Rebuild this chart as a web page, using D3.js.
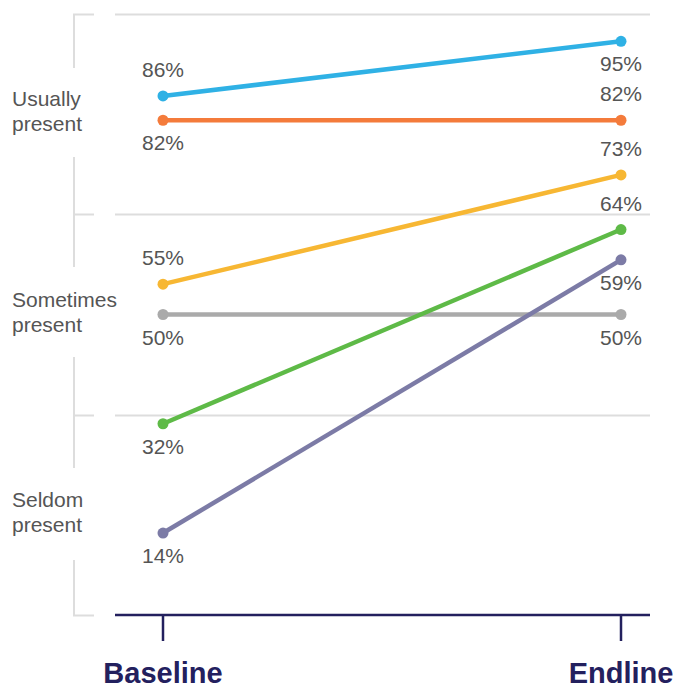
<!DOCTYPE html>
<html>
<head>
<meta charset="utf-8">
<style> body { margin: 0; background: #fff; } </style>
<script src="https://d3js.org/d3.v7.min.js"></script>
</head>
<body>
<div id="chart"></div>
<script>
// data
var periods = ["Baseline", "Endline"];
var seriesNames = ["blue", "orange", "yellow", "gray", "green", "purple"];
var baselineValues = [86, 82, 55, 50, 32, 14];
var endlineValues = [95, 82, 73, 50, 64, 59];
var seriesColors = ["#2fb1e5", "#f47b3b", "#f7b733", "#aaaaaa", "#5eba47", "#7c7ba6"];
// label above (-1) or below (+1) the dot
var baselineLabelPos = [-1, 1, -1, 1, 1, 1];
var endlineLabelPos = [1, -1, -1, 1, -1, 1];
var bandLabels = [["Usually", "present"], ["Sometimes", "present"], ["Seldom", "present"]];
var bandEdges = [3, 2, 1, 0];

var W = 677, H = 684;
var svg = d3.select("#chart").append("svg").attr("width", W).attr("height", H);

var x = d3.scalePoint().domain(periods).range([163, 621]);
var y = d3.scaleLinear().domain([0, 100]).range([618, 11]);
var band = d3.scaleLinear().domain([0, 3]).range([615, 14]);

var gridLeft = 115, gridRight = 650;
var font = "Liberation Sans, Arial, sans-serif";

// gridlines
svg.append("g").selectAll("line").data(bandEdges.slice(0, 3)).join("line")
    .attr("x1", gridLeft).attr("x2", gridRight)
    .attr("y1", d => Math.round(band(d)) + 0.5).attr("y2", d => Math.round(band(d)) + 0.5)
    .attr("stroke", "#dddddd").attr("stroke-width", 2);

// left bracket
var bx = 74;
var br = svg.append("g").attr("stroke", "#dddddd").attr("stroke-width", 2);
br.selectAll("line.tick").data(bandEdges).join("line").attr("class", "tick")
    .attr("x1", bx - 1).attr("x2", 94)
    .attr("y1", d => Math.round(band(d)) + 0.5).attr("y2", d => Math.round(band(d)) + 0.5);
var gaps = [[68, 157], [267, 357], [468, 560]];
var segs = [];
var prev = band(3);
gaps.forEach(g => { segs.push([prev, g[0]]); prev = g[1]; });
segs.push([prev, band(0)]);
br.selectAll("line.seg").data(segs).join("line").attr("class", "seg")
    .attr("x1", bx).attr("x2", bx).attr("y1", d => d[0]).attr("y2", d => d[1]);

// band labels
bandLabels.forEach((lab, i) => {
    var mid = (band(bandEdges[i]) + band(bandEdges[i + 1])) / 2;
    var t = svg.append("text")
        .attr("x", 12).attr("y", mid - 8)
        .attr("font-family", font)
        .attr("font-size", 21).attr("fill", "#555555");
    lab.forEach((s, j) => {
        t.append("tspan").attr("x", 12).attr("dy", j == 0 ? 0 : 25).text(s);
    });
});

// bottom axis
var ax = svg.append("g").attr("stroke", "#23205e").attr("stroke-width", 2.5);
ax.append("line").attr("x1", gridLeft).attr("x2", gridRight).attr("y1", 615).attr("y2", 615);
ax.selectAll("line.t").data(periods).join("line").attr("class", "t")
    .attr("x1", d => x(d)).attr("x2", d => x(d)).attr("y1", 615).attr("y2", 641);

svg.selectAll("text.period").data(periods).join("text").attr("class", "period")
    .attr("x", d => x(d)).attr("y", 683)
    .attr("text-anchor", "middle")
    .attr("font-family", font)
    .attr("font-weight", "bold").attr("font-size", 29).attr("fill", "#23205e")
    .text(d => d);

// lines and dots
var rows = seriesNames.map((n, i) => ({
    name: n, color: seriesColors[i],
    pts: [
        { p: periods[0], v: baselineValues[i], pos: baselineLabelPos[i] },
        { p: periods[1], v: endlineValues[i], pos: endlineLabelPos[i] }
    ]
}));

var g = svg.selectAll("g.series").data(rows).join("g").attr("class", "series");
g.append("path")
    .attr("d", d => d3.line().x(p => x(p.p)).y(p => y(p.v))(d.pts))
    .attr("stroke", d => d.color).attr("stroke-width", 4.5).attr("fill", "none");
g.selectAll("circle").data(d => d.pts.map(p => Object.assign({ color: d.color }, p))).join("circle")
    .attr("cx", p => x(p.p)).attr("cy", p => y(p.v)).attr("r", 5.5)
    .attr("fill", p => p.color);
g.selectAll("text").data(d => d.pts).join("text")
    .attr("x", p => x(p.p)).attr("y", p => y(p.v) + (p.pos < 0 ? -19 : 30))
    .attr("text-anchor", "middle")
    .attr("font-family", font)
    .attr("font-size", 21).attr("fill", "#555555")
    .text(p => p.v + "%");
</script>
</body>
</html>
